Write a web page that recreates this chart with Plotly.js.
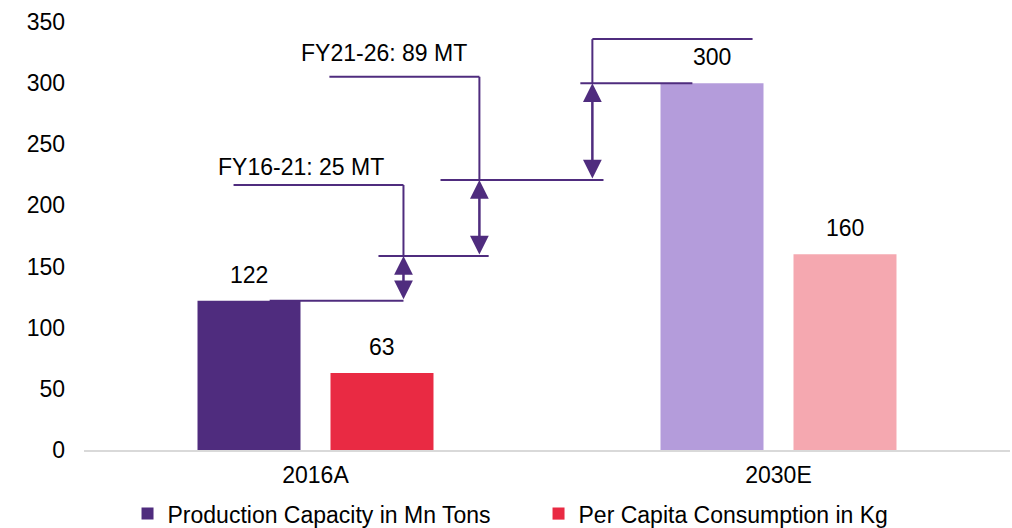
<!DOCTYPE html>
<html>
<head>
<meta charset="utf-8">
<script src="https://cdn.plot.ly/plotly-3.0.1.min.js"></script>
<style>html,body{margin:0;padding:0;background:#fff;}#chart{width:1012px;height:528px;}</style>
</head>
<body>
<div id="chart"></div>
<script>
// ---- data ----
const categories = ['2016A', '2030E'];
const productionCapacity = [122, 300];
const perCapitaConsumption = [63, 160];
const seriesNames = ['Production Capacity in Mn Tons', 'Per Capita Consumption in Kg'];
const productionColors = ['#4f2c7e', '#b49cdb'];
const consumptionColors = ['#e92a43', '#f5a8b0'];
const growthLabels = ['FY16-21: 25 MT', 'FY21-26: 89 MT', 'FY26-30: 64 MT'];
const stepLevels = [122, 158.6, 220.8, 300];
const yTicks = [0, 50, 100, 150, 200, 250, 300, 350];

// ---- style ----
const FONT = 'Liberation Sans, Arial, sans-serif';
const FS = 23;
const LINE = '#4f2c7e';
const barOffset = 0.1437;

const traces = [
  {type: 'bar', name: seriesNames[0], x: categories, y: productionCapacity,
   marker: {color: productionColors}, hoverinfo: 'skip'},
  {type: 'bar', name: seriesNames[1], x: categories, y: perCapitaConsumption,
   marker: {color: consumptionColors}, hoverinfo: 'skip'}
];

const annotations = [];
// value labels above bars
[productionCapacity, perCapitaConsumption].forEach((vals, s) => {
  vals.forEach((v, i) => {
    annotations.push({x: i + (s === 0 ? -barOffset : barOffset), y: v, xref: 'x', yref: 'y',
      text: String(v), showarrow: false, yanchor: 'bottom', yshift: 11,
      font: {family: FONT, size: FS, color: '#000'}});
  });
});

// bracket geometry (x in category units)
const arrowX = [0.190, 0.354, 0.598];
const labelX = [-0.032, 0.149, 0.784];
const labelY = [231.4, 324.6, 355.7];
const leaderY = [216.7, 305.2, 336];
const leaderStart = [-0.177, 0.030, 0.598];
const leaderEnd = [0.190, 0.354, 0.944];
const levelLines = [[-0.099, 0.190], [0.136, 0.374], [0.270, 0.622], [0.572, 0.814]];

const shapes = [];
levelLines.forEach((seg, k) => {
  shapes.push({type: 'line', xref: 'x', yref: 'y', x0: seg[0], x1: seg[1],
    y0: stepLevels[k], y1: stepLevels[k], line: {color: LINE, width: 2}});
});
for (let k = 0; k < 3; k++) {
  shapes.push({type: 'line', xref: 'x', yref: 'y', x0: leaderStart[k], x1: leaderEnd[k],
    y0: leaderY[k], y1: leaderY[k], line: {color: LINE, width: 2}});
  const vx = k === 2 ? leaderStart[k] : leaderEnd[k];
  shapes.push({type: 'line', xref: 'x', yref: 'y', x0: vx, x1: vx,
    y0: leaderY[k], y1: stepLevels[k + 1], line: {color: LINE, width: 2}});
  annotations.push({x: arrowX[k], y: stepLevels[k + 1], ax: arrowX[k], ay: stepLevels[k],
    xref: 'x', yref: 'y', axref: 'x', ayref: 'y', text: '', showarrow: true,
    arrowhead: 2, startarrowhead: 2, arrowside: 'end+start', arrowsize: 1.5, startarrowsize: 1.5,
    arrowwidth: 2.5, arrowcolor: LINE, standoff: 0, startstandoff: 0});
  annotations.push({x: labelX[k], y: labelY[k], xref: 'x', yref: 'y', text: growthLabels[k],
    showarrow: false, font: {family: FONT, size: FS, color: '#000'}});
}

const layout = {
  width: 1012, height: 528,
  margin: {l: 83.5, r: 2, t: 22, b: 78, autoexpand: false},
  paper_bgcolor: '#fff', plot_bgcolor: '#fff',
  font: {family: FONT, size: FS, color: '#000'},
  barmode: 'group', bargap: 0.4255, bargroupgap: 0.2256,
  showlegend: true,
  legend: {orientation: 'h', x: 0.047, xanchor: 'left', xref: 'paper', y: -0.199, yanchor: 'bottom',
    font: {family: FONT, size: FS, color: '#000'}, entrywidth: 366, entrywidthmode: 'pixels',
    traceorder: 'normal', bgcolor: 'rgba(0,0,0,0)'},
  xaxis: {type: 'category', range: [-0.5, 1.5], showgrid: false, zeroline: false,
    showline: true, linecolor: '#d9d9d9', linewidth: 2, ticks: '', ticklabelstandoff: 3,
    tickfont: {family: FONT, size: FS, color: '#000'}, fixedrange: true},
  yaxis: {range: [0, 350], tickvals: yTicks, showgrid: false, zeroline: false, showline: false,
    ticks: '', ticklabelstandoff: 18, tickfont: {family: FONT, size: FS, color: '#000'}, fixedrange: true},
  shapes: shapes,
  annotations: annotations
};

Plotly.newPlot('chart', traces, layout, {staticPlot: true, displayModeBar: false});
</script>
</body>
</html>
